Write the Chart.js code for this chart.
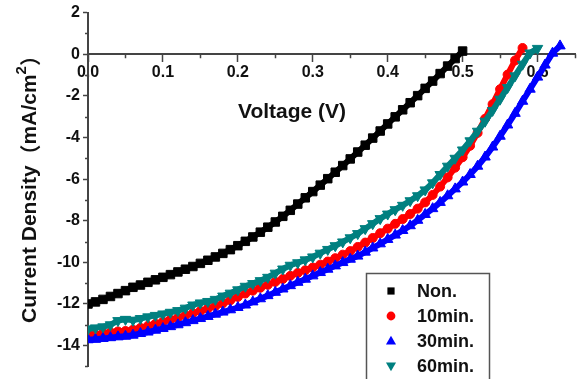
<!DOCTYPE html>
<html>
<head>
<meta charset="utf-8">
<script src="https://cdn.jsdelivr.net/npm/chart.js@4.4.0/dist/chart.umd.min.js"></script>
<style>
  html, body { margin: 0; padding: 0; background: #fff; }
  #wrap { width: 582px; height: 379px; position: relative; overflow: hidden; }
</style>
</head>
<body>
<div id="wrap"><canvas id="jvChart" width="582" height="379"></canvas></div>
<script>
// J-V curves (V in volts, J in mA/cm2)
const voltage = [
  0.00, 0.01, 0.02, 0.03, 0.04, 0.05, 0.06, 0.07, 0.08, 0.09,
  0.10, 0.11, 0.12, 0.13, 0.14, 0.15, 0.16, 0.17, 0.18, 0.19,
  0.20, 0.21, 0.22, 0.23, 0.24, 0.25, 0.26, 0.27, 0.28, 0.29,
  0.30, 0.31, 0.32, 0.33, 0.34, 0.35, 0.36, 0.37, 0.38, 0.39,
  0.40, 0.41, 0.42, 0.43, 0.44, 0.45, 0.46, 0.47, 0.48, 0.49,
  0.50, 0.51, 0.52, 0.53, 0.54, 0.55, 0.56, 0.57, 0.58, 0.59,
  0.60, 0.61, 0.62, 0.63
];
const seriesNames = ['Non.', '10min.', '30min.', '60min.'];

const jNon = [
  -12.00, -11.90, -11.78, -11.64, -11.50, -11.36, -11.20, -11.09, -10.96, -10.84,
  -10.72, -10.59, -10.46, -10.33, -10.20, -10.05, -9.90, -9.74, -9.57, -9.39,
  -9.20, -8.99, -8.78, -8.55, -8.31, -8.06, -7.79, -7.50, -7.20, -6.90,
  -6.60, -6.29, -5.98, -5.67, -5.35, -5.03, -4.70, -4.37, -4.03, -3.69,
  -3.35, -3.01, -2.67, -2.33, -1.99, -1.64, -1.29, -0.93, -0.57, -0.21,
  0.15
];
const j10min = [
  -13.45, -13.48, -13.40, -13.36, -13.32, -13.30, -13.24, -13.15, -13.05, -12.95,
  -12.85, -12.76, -12.66, -12.55, -12.45, -12.34, -12.22, -12.10, -11.97, -11.82,
  -11.66, -11.50, -11.36, -11.22, -11.08, -10.94, -10.80, -10.65, -10.51, -10.38,
  -10.25, -10.11, -9.96, -9.80, -9.63, -9.46, -9.26, -9.05, -8.83, -8.60,
  -8.38, -8.15, -7.92, -7.68, -7.42, -7.12, -6.76, -6.36, -5.92, -5.45,
  -4.95, -4.40, -3.78, -3.10, -2.40, -1.68, -0.98, -0.30, 0.30
];
const j30min = [
  -13.72, -13.70, -13.66, -13.62, -13.58, -13.55, -13.50, -13.42, -13.35, -13.26,
  -13.18, -13.09, -13.00, -12.90, -12.80, -12.70, -12.60, -12.49, -12.39, -12.28,
  -12.17, -12.05, -11.90, -11.75, -11.60, -11.44, -11.28, -11.12, -10.96, -10.81,
  -10.65, -10.49, -10.33, -10.17, -10.01, -9.85, -9.70, -9.51, -9.31, -9.11,
  -8.90, -8.69, -8.47, -8.24, -7.98, -7.70, -7.42, -7.12, -6.80, -6.47,
  -6.14, -5.78, -5.38, -4.94, -4.46, -3.94, -3.40, -2.84, -2.26, -1.68,
  -1.10, -0.52, 0.05, 0.40
];
const j60min = [
  -13.20, -13.15, -13.10, -13.00, -12.80, -12.74, -12.78, -12.70, -12.62, -12.55,
  -12.48, -12.40, -12.32, -12.20, -12.05, -11.95, -11.88, -11.78, -11.62, -11.48,
  -11.32, -11.15, -11.02, -10.88, -10.72, -10.52, -10.32, -10.14, -10.02, -9.88,
  -9.74, -9.56, -9.38, -9.20, -9.02, -8.82, -8.62, -8.38, -8.14, -7.90,
  -7.68, -7.47, -7.26, -7.04, -6.80, -6.52, -6.18, -5.78, -5.38, -5.00,
  -4.60, -4.16, -3.70, -3.22, -2.70, -2.16, -1.60, -1.04, -0.48, 0.06,
  0.28
];

const xMajorTicks = [0, 0.1, 0.2, 0.3, 0.4, 0.5, 0.6];
const xMinorTicks = [0.05, 0.15, 0.25, 0.35, 0.45, 0.55, 0.65];
const yMajorTicks = [-14, -12, -10, -8, -6, -4, -2, 0, 2];
const yMinorTicks = [-15, -13, -11, -9, -7, -5, -3, -1, 1];

const FONT = 'Arial, "Liberation Sans", sans-serif';
const AXIS_COLOR = '#444';

function toPoints(ys) {
    return ys.map((j, i) => ({ x: voltage[i], y: j }));
}

function makeSet(name, ys, color, style, rotation, radius, order) {
    return {
        label: name,
        data: toPoints(ys),
        showLine: true,
        borderColor: color,
        backgroundColor: color,
        borderWidth: 6,
        pointStyle: style,
        pointRotation: rotation,
        pointRadius: radius,
        pointBorderWidth: 1,
        pointBorderColor: color,
        pointBackgroundColor: color,
        order: order
    };
}

function drawMarker(ctx, style, rotation, x, y, r, color) {
    ctx.fillStyle = color;
    ctx.beginPath();
    if (style === 'rect') {
        ctx.rect(x - r, y - r, 2 * r, 2 * r);
    } else if (style === 'circle') {
        ctx.arc(x, y, r, 0, Math.PI * 2);
    } else {
        const d = rotation ? -1 : 1;
        ctx.moveTo(x, y - d * r * 1.1);
        ctx.lineTo(x + r * 1.05, y + d * r * 0.75);
        ctx.lineTo(x - r * 1.05, y + d * r * 0.75);
        ctx.closePath();
    }
    ctx.fill();
}

// minor ticks on both axes (Chart.js has no minor ticks of its own)
const minorTicks = {
    id: 'minorTicks',
    beforeDatasetsDraw(chart) {
        const { ctx, scales: { x, y }, chartArea } = chart;
        const y0 = y.getPixelForValue(0);
        ctx.save();
        ctx.strokeStyle = AXIS_COLOR;
        ctx.lineWidth = 1.5;
        ctx.beginPath();
        xMinorTicks.forEach(v => {
            const px = Math.round(x.getPixelForValue(v)) + 0.5;
            ctx.moveTo(px, y0);
            ctx.lineTo(px, y0 + 4);
        });
        yMinorTicks.forEach(v => {
            const py = Math.round(y.getPixelForValue(v)) + 0.5;
            ctx.moveTo(chartArea.left, py);
            ctx.lineTo(chartArea.left - 3, py);
        });
        ctx.stroke();
        ctx.restore();
    }
};

// axis titles drawn by hand: x title sits inside the plot, y title needs a real superscript
const axisTitles = {
    id: 'axisTitles',
    afterDraw(chart) {
        const ctx = chart.ctx;
        ctx.save();
        ctx.fillStyle = '#111';
        ctx.textBaseline = 'middle';
        ctx.textAlign = 'center';
        ctx.font = 'bold 21px ' + FONT;
        ctx.fillText('Voltage (V)', 292, 112);

        const parts = [
            { t: 'Current Density', f: 'bold 21px ' + FONT, dy: 0 },
            { t: '（', f: 'bold 21px "Noto Sans CJK SC", ' + FONT, dy: 0 },
            { t: 'mA/cm', f: 'bold 21px ' + FONT, dy: 0 },
            { t: '2', f: 'bold 15px ' + FONT, dy: -8 },
            { t: '）', f: 'bold 21px "Noto Sans CJK SC", ' + FONT, dy: 0 }
        ];
        let total = 0;
        parts.forEach(p => { ctx.font = p.f; p.w = ctx.measureText(p.t).width; total += p.w; });
        ctx.translate(30, 184);
        ctx.rotate(-Math.PI / 2);
        ctx.textAlign = 'left';
        let cx = -total / 2;
        parts.forEach(p => {
            ctx.font = p.f;
            ctx.fillText(p.t, cx, p.dy);
            cx += p.w;
        });
        ctx.restore();
    }
};

// boxed legend in the lower right corner of the plot
const boxLegend = {
    id: 'boxLegend',
    afterDraw(chart) {
        const ctx = chart.ctx;
        ctx.save();
        ctx.fillStyle = '#fff';
        ctx.fillRect(366, 273, 124, 120);
        ctx.strokeStyle = '#555';
        ctx.lineWidth = 1.5;
        ctx.strokeRect(366.5, 273.5, 123, 120);
        ctx.font = 'bold 18px ' + FONT;
        ctx.textBaseline = 'middle';
        ctx.textAlign = 'left';
        const legendSizes = { rect: 3.6, circle: 4.4, triangle: 4.8 };
        chart.data.datasets.forEach((ds, i) => {
            const cy = 291 + i * 25;
            drawMarker(ctx, ds.pointStyle, ds.pointRotation, 391, cy, legendSizes[ds.pointStyle], ds.borderColor);
            ctx.fillStyle = '#111';
            ctx.fillText(ds.label, 417, cy + 1);
        });
        ctx.restore();
    }
};

const ctx = document.getElementById('jvChart').getContext('2d');
const myChart = new Chart(ctx, {
    type: 'scatter',
    data: {
        datasets: [
            makeSet(seriesNames[0], jNon, '#000000', 'rect', 0, 6, 4),
            makeSet(seriesNames[1], j10min, '#ff0000', 'circle', 0, 4.5, 3),
            makeSet(seriesNames[2], j30min, '#0000ff', 'triangle', 0, 6, 2),
            makeSet(seriesNames[3], j60min, '#008080', 'triangle', 180, 6, 1)
        ]
    },
    options: {
        responsive: false,
        animation: false,
        devicePixelRatio: 1,
        layout: { padding: { top: 10, right: 7, bottom: 12, left: 0 } },
        plugins: {
            legend: { display: false },
            tooltip: { enabled: false }
        },
        scales: {
            x: {
                type: 'linear',
                min: 0,
                max: 0.65,
                position: { y: 0 },
                afterBuildTicks: s => { s.ticks = xMajorTicks.map(v => ({ value: v })); },
                ticks: {
                    callback: v => Number(v).toFixed(1),
                    font: { family: FONT, size: 16, weight: 'bold' },
                    color: '#111',
                    padding: 2,
                    maxRotation: 0,
                    autoSkip: false
                },
                grid: {
                    drawOnChartArea: false,
                    drawTicks: true,
                    tickLength: 7,
                    tickColor: AXIS_COLOR,
                    tickWidth: 1.5
                },
                border: { color: AXIS_COLOR, width: 2 }
            },
            y: {
                type: 'linear',
                min: -15,
                max: 2,
                afterBuildTicks: s => { s.ticks = yMajorTicks.map(v => ({ value: v })); },
                afterFit: s => { s.width = 88; },
                ticks: {
                    callback: v => String(v),
                    font: { family: FONT, size: 16, weight: 'bold' },
                    color: '#111',
                    padding: 3,
                    autoSkip: false
                },
                grid: {
                    drawOnChartArea: false,
                    drawTicks: true,
                    tickLength: 5,
                    tickColor: AXIS_COLOR,
                    tickWidth: 1.5
                },
                border: { color: AXIS_COLOR, width: 2 }
            }
        }
    },
    plugins: [minorTicks, axisTitles, boxLegend]
});
</script>
</body>
</html>
